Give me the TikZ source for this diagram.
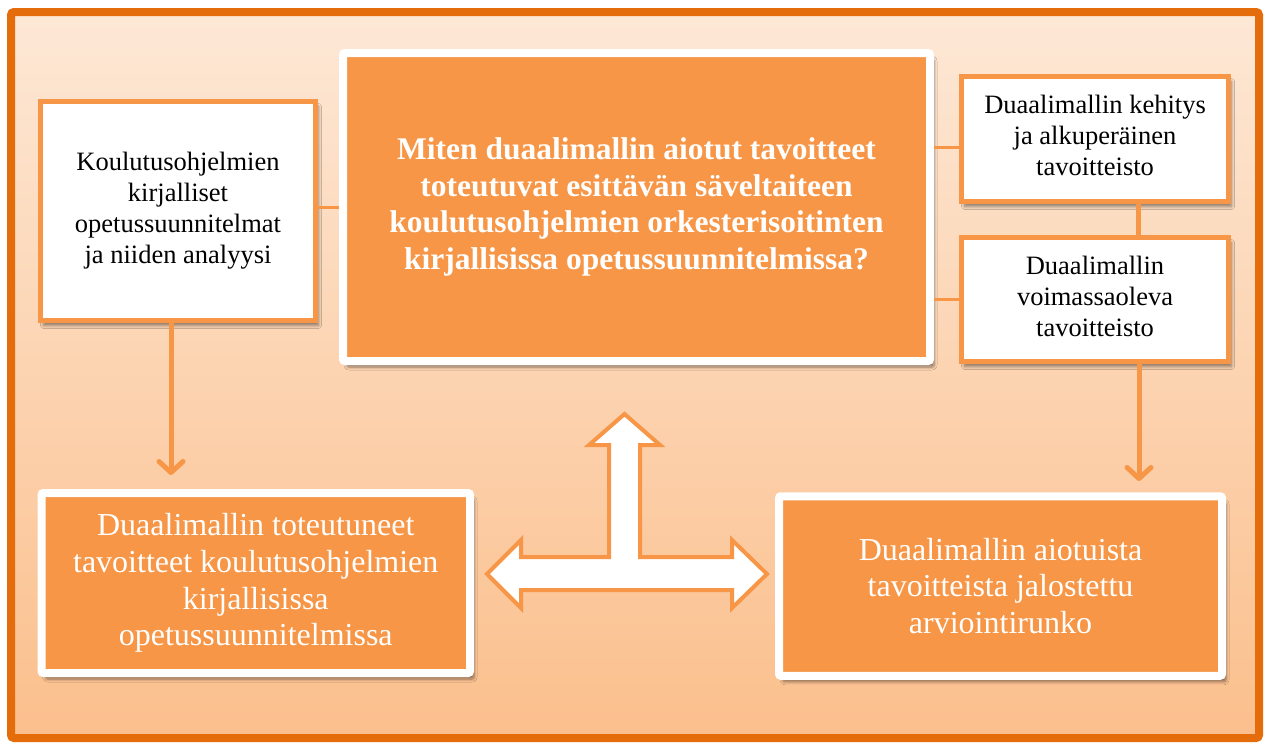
\documentclass[tikz,border=0pt]{standalone}
\usepackage{fontspec}
\setmainfont{Liberation Serif}
\usetikzlibrary{arrows.meta,shadows.blur}
\definecolor{frameorange}{HTML}{E46C0A}
\definecolor{boxorange}{HTML}{F79646}
\definecolor{bgtop}{HTML}{FDE8D6}
\definecolor{bgbot}{HTML}{FBBF8C}
\tikzset{
  shadw/.style={blur shadow={shadow xshift=3pt, shadow yshift=-5pt, shadow blur radius=3pt,
    shadow blur steps=6, shadow opacity=45}},
  shado/.style={blur shadow={shadow xshift=4pt, shadow yshift=-6pt, shadow blur radius=3pt,
    shadow blur steps=6, shadow opacity=45}},
  wbox/.style={draw=boxorange, line width=5pt, fill=white, align=center, text=black,
    font=\fontsize{26.5}{31}\selectfont, inner sep=0pt, shadw},
  obox/.style={draw=white, line width=8pt, fill=boxorange, text=white, align=center,
    font=\fontsize{32}{36.8}\selectfont, rounded corners=2pt, inner sep=0pt, shado},
  conn/.style={draw=boxorange, line width=3pt},
  vconn/.style={draw=boxorange, line width=5pt},
  arr/.style={draw=boxorange, line width=5pt, line cap=round,
    -{Straight Barb[length=11pt, width=24pt, line cap=round, line join=round]}},
  tarrow/.style={draw=boxorange, line width=4pt, fill=white, line join=miter},
}
\begin{document}
\begin{tikzpicture}[x=1pt,y=-1pt]
\useasboundingbox (0,0) rectangle (1265,742);
% frame with gradient background
\path[draw=frameorange, line width=8pt, rounded corners=3pt, top color=bgtop, bottom color=bgbot]
  (11,12) rectangle (1259,738);

% boxes
\node[wbox, minimum width=275pt, minimum height=219pt] (A) at (178,211)
  {Koulutusohjelmien\\kirjalliset\\opetussuunnitelmat\\ja niiden analyysi};
\node[obox, minimum width=587pt, minimum height=308pt,
  font=\fontsize{31.5}{36.8}\selectfont\bfseries] (B) at (636.5,207)
  {Miten duaalimallin aiotut tavoitteet\\toteutuvat esittävän säveltaiteen\\koulutusohjelmien orkesterisoitinten\\kirjallisissa opetussuunnitelmissa?};
\node[wbox, minimum width=267pt, minimum height=125pt] (C) at (1095,139) {};
\node[wbox, minimum width=267pt, minimum height=124pt] (D) at (1095,299.5) {};
\node[obox, minimum width=428.5pt, minimum height=180pt] (E) at (255.75,583)
  {Duaalimallin toteutuneet\\tavoitteet koulutusohjelmien\\kirjallisissa\\opetussuunnitelmissa};
\node[obox, minimum width=443pt, minimum height=179.5pt] (F) at (1000.5,586)
  {Duaalimallin aiotuista\\tavoitteista jalostettu\\arviointirunko};
\path (C.center) node[yshift=4pt, align=center, font=\fontsize{26.5}{31}\selectfont] (Ct)
  {Duaalimallin kehitys\\ja alkuperäinen\\tavoitteisto};
\path (D.center) node[yshift=3pt, align=center, font=\fontsize{26.5}{31}\selectfont] (Dt)
  {Duaalimallin\\voimassaoleva\\tavoitteisto};

% connectors
\draw[conn] (B.west) -- (B.west -| A.east);
\draw[conn] ([yshift=-8pt]C.west) -- ([yshift=-8pt]C.west -| B.east);
\draw[conn] (D.west) -- (D.west -| B.east);
\draw[vconn] ([xshift=43pt]C.south) -- ([xshift=43pt]D.north);

\coordinate (atip) at (171,475);
\coordinate (dtip) at (1139,481);
\draw[arr] ([xshift=-7pt]A.south) -- (atip);
\draw[arr] ([xshift=44pt]D.south) -- (dtip);

% T-shaped block arrow
\path[tarrow] (487,574) -- (521,540) -- (521,557) -- (609,557) -- (609,445) -- (589,445)
  -- (624.5,414) -- (660,445) -- (640,445) -- (640,557) -- (732,557) -- (732,540)
  -- (767,574) -- (732,608) -- (732,590) -- (521,590) -- (521,608) -- cycle;
\end{tikzpicture}
\end{document}
